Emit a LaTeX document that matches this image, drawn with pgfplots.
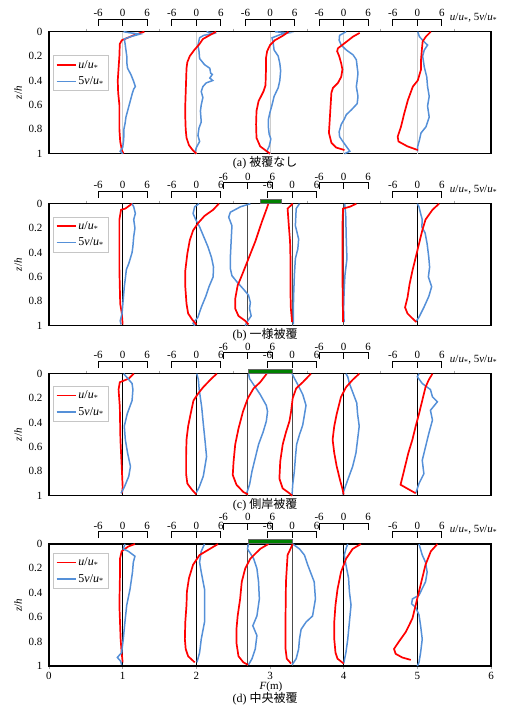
\documentclass[border=0pt]{standalone}
\usepackage{fontspec}
\setmainfont{Liberation Serif}
\newfontfamily\jp{Noto Sans CJK JP}
\usepackage{pgfplots}
\pgfplotsset{compat=1.18}
\definecolor{ured}{HTML}{FF0000}
\definecolor{vblue}{HTML}{5590D8}

\newcommand\fs{\fontsize{11}{13}\selectfont}
\newcommand\fl{\fontsize{12}{14}\selectfont}
\newcommand\uu{\textit{u}/\textit{u}\textsubscript{*}}
\newcommand\vv{5\textit{v}/\textit{u}\textsubscript{*}}

% bracket scale above a profile: left, zero, right, lift (pt)
\newcommand\brk[4]{%
  \draw[line width=0.9pt] ([yshift=#4pt-6.5pt]axis cs:#1,0) -- ([yshift=#4pt]axis cs:#1,0) -- ([yshift=#4pt]axis cs:#3,0) -- ([yshift=#4pt-6.5pt]axis cs:#3,0);
  \draw[line width=0.9pt] ([yshift=#4pt]axis cs:#2,0) -- ([yshift=#4pt-6.5pt]axis cs:#2,0);
  \node[font=\fs, anchor=base, inner sep=0pt] at ([yshift=#4pt+2.5pt]axis cs:#1,0) {-6};
  \node[font=\fs, anchor=base, inner sep=0pt] at ([yshift=#4pt+2.5pt]axis cs:#2,0) {0};
  \node[font=\fs, anchor=base, inner sep=0pt] at ([yshift=#4pt+2.5pt]axis cs:#3,0) {6};
}
\newcommand\zl[2]{\addplot[forget plot, #2] coordinates {(#1,0) (#1,1)};}

\pgfplotsset{
  panel/.style={
    width=442pt, height=122pt, scale only axis, anchor=north west,
    xmin=0, xmax=6, ymin=0, ymax=1, y dir=reverse, clip=false,
    axis line style={line width=1.2pt},
    ytick={0,0.2,0.4,0.6,0.8,1}, yticklabels={0,0.2,0.4,0.6,0.8,1},
    ytick style={draw=none},
    xtick={0.5,1.5,2.5,3.5,4.5,5.5}, xticklabels={}, xtick pos=right,
    tick align=outside, xtick style={gray!70, line width=0.5pt},
    major tick length=3pt,
    tick label style={font=\fs},
    ylabel={\textit{z}/\textit{h}},
    ylabel style={font=\fs, at={(axis description cs:-0.07,0.5)}, anchor=center},
    legend cell align=left,
    legend style={font=\fl, draw=gray!45, line width=0.6pt, inner xsep=2.5pt,
      inner ysep=2.5pt, row sep=3pt, anchor=north west},
  },
  legend image code/.code={\draw[#1] (0pt,0pt) -- (19pt,0pt);},
  urL/.style={ured, line width=1.7pt, x filter/.expression={#1+x/18}},
  vbL/.style={vblue, line width=1.5pt, x filter/.expression={#1+x/18}},
  ur/.style={urL=#1, forget plot},
  vb/.style={vbL=#1, forget plot},
}

\begin{document}
\begin{tikzpicture}
\useasboundingbox (0pt,0pt) rectangle (511pt,-707pt);

% ---------------- (a)
\begin{axis}[panel, at={(49pt,-31.7pt)},
  legend style={at={(axis description cs:0.009,0.805)}}]
\zl{1}{gray!40, line width=1pt}\zl{2}{gray!40, line width=1pt}\zl{3}{gray!40, line width=1pt}
\zl{4}{gray!40, line width=1pt}\zl{5}{gray!40, line width=1pt}
\addplot[urL=1] coordinates {(5.3,0) (3.0,0.025) (1.2,0.05) (-0.2,0.07) (-0.7,0.1) (-0.8,0.2) (-1.0,0.3) (-1.2,0.4) (-1.1,0.5) (-0.8,0.6) (-0.8,0.7) (-0.8,0.8) (-0.6,0.9) (-0.2,0.97) (0.2,1)};
\addlegendentry{\uu}
\addplot[vbL=1] coordinates {(0.2,0) (2,0.01) (4.2,0.02) (2,0.04) (0.4,0.06) (0.6,0.1) (0.8,0.15) (1.0,0.2) (1.0,0.25) (1.2,0.3) (2.0,0.35) (2.6,0.4) (2.9,0.43) (3.1,0.45) (2.7,0.47) (2.4,0.5) (2.0,0.55) (1.6,0.6) (1.2,0.65) (0.8,0.7) (0.6,0.75) (0.3,0.8) (0.3,0.85) (0.2,0.9) (0,0.95) (-0.6,0.98) (0,1)};
\addlegendentry{\vv}
\addplot[vb=2] coordinates {(2.5,0) (4.2,0.015) (1.8,0.03) (0.8,0.05) (0.4,0.11) (0.65,0.16) (0.8,0.22) (2.0,0.27) (3.3,0.3) (3.5,0.34) (3.9,0.35) (3.3,0.38) (4.0,0.4) (2.4,0.42) (1.6,0.45) (1.2,0.49) (1.6,0.54) (1.2,0.6) (1.0,0.65) (1.2,0.74) (0.65,0.79) (0.4,0.85) (0.8,0.9) (0,0.95) (-0.4,1)};
\addplot[ur=2] coordinates {(4.8,0) (3.2,0.03) (1.6,0.06) (0.8,0.1) (-0.5,0.15) (-1.6,0.2) (-2.2,0.25) (-2.4,0.3) (-2.5,0.4) (-2.6,0.5) (-2.7,0.6) (-2.7,0.7) (-2.6,0.8) (-2.4,0.87) (-1.8,0.93) (-0.9,0.97) (0,1)};
\addplot[vb=3] coordinates {(1.2,0) (4.5,0.01) (2.8,0.02) (0.5,0.05) (0.8,0.1) (1.0,0.15) (2.0,0.2) (2.4,0.26) (2.6,0.32) (2.4,0.4) (2.0,0.46) (1.0,0.53) (0.5,0.6) (0,0.66) (-0.4,0.72) (-0.4,0.78) (-0.2,0.84) (0.2,0.88) (-0.2,0.94) (-0.8,0.98) (0,1)};
\addplot[ur=3] coordinates {(4.5,0) (3.3,0.03) (1.2,0.07) (0,0.11) (-0.7,0.16) (-1.0,0.22) (-1.0,0.33) (-1.1,0.44) (-1.6,0.49) (-2.8,0.57) (-3.3,0.65) (-3.4,0.76) (-3.3,0.87) (-2.4,0.94) (-0.8,0.98) (0,1)};
\addplot[vb=4] coordinates {(0.6,0) (-1.0,0.03) (-1.1,0.07) (-0.6,0.11) (0.65,0.15) (2.3,0.19) (3.1,0.23) (3.3,0.29) (3.5,0.34) (3.3,0.4) (3.1,0.45) (3.5,0.53) (3.3,0.59) (1.9,0.64) (0.65,0.68) (0.1,0.72) (-0.6,0.76) (-1.1,0.82) (-1.0,0.86) (-0.2,0.9) (0.65,0.94) (1.5,0.98) (0.2,1)};
\addplot[ur=4] coordinates {(3.9,0.01) (2.3,0.04) (0.2,0.095) (-1.4,0.136) (-1.6,0.16) (-1.1,0.2) (-0.6,0.26) (-0.3,0.31) (-0.6,0.37) (-1.4,0.42) (-2.6,0.46) (-3.0,0.5) (-3.2,0.61) (-3.4,0.72) (-3.6,0.83) (-3.0,0.91) (-1.8,0.95) (0.2,0.97)};
\addplot[vb=5] coordinates {(0.1,0) (0.5,0.04) (1.3,0.07) (2.5,0.11) (1.7,0.15) (1.3,0.2) (1.7,0.29) (2.3,0.37) (2.5,0.45) (2.9,0.53) (2.5,0.61) (2.9,0.7) (2.1,0.78) (0.9,0.83) (0.5,0.89) (0.1,0.94) (0.1,0.98)};
\addplot[ur=5] coordinates {(3.3,0) (2.1,0.04) (1.3,0.08) (1.1,0.15) (0.9,0.23) (0.9,0.31) (0.1,0.4) (-1.1,0.45) (-2.3,0.56) (-3.2,0.67) (-4.0,0.78) (-4.8,0.86) (-4.6,0.9) (-2.4,0.94) (0.1,0.97)};
\brk{0.6667}{1}{1.3333}{12.5}\brk{1.6667}{2}{2.3333}{12.5}\brk{2.6667}{3}{3.3333}{12.5}
\brk{3.6667}{4}{4.3333}{12.5}\brk{4.6667}{5}{5.3333}{12.5}
\node[font=\fs, anchor=west, inner sep=0pt] at ([yshift=14pt]axis cs:5.44,0) {\uu, \vv};
\node[font=\fl] at ([yshift=-9.5pt]axis description cs:0.489,0) {(a) {\jp 被覆なし}};
\end{axis}

% ---------------- (b)
\begin{axis}[panel, at={(49pt,-203.7pt)},
  legend style={at={(axis description cs:0.009,0.893)}}]
\zl{1}{black, line width=0.6pt}\zl{2}{black, line width=0.6pt}\zl{2.7}{black!70, line width=0.9pt}
\zl{3.3}{black!70, line width=0.8pt}\zl{4}{black!70, line width=0.7pt}\zl{5}{black, line width=0.6pt}
\addplot[urL=1] coordinates {(2.3,0) (0.65,0.04) (-0.4,0.05) (-0.8,0.13) (-0.8,0.27) (-0.8,0.54) (-0.6,0.82) (-0.2,0.9) (0,0.99)};
\addlegendentry{\uu}
\addplot[vbL=1] coordinates {(2.3,0) (2.7,0.025) (3.1,0.08) (2.7,0.13) (3.0,0.2) (2.7,0.27) (2.5,0.35) (2.3,0.4) (1.5,0.49) (0.9,0.54) (0.7,0.6) (0.4,0.68) (0.1,0.8) (-0.15,0.9) (-0.6,0.96) (-0.4,0.99)};
\addlegendentry{\vv}
\addplot[vb=2] coordinates {(0.65,0) (-0.4,0.025) (-0.8,0.08) (-0.15,0.13) (0.8,0.19) (1.8,0.27) (2.8,0.35) (3.7,0.44) (4.2,0.52) (4.1,0.6) (3.1,0.68) (2.3,0.76) (1.2,0.85) (0.4,0.93) (-0.8,0.98) (-0.4,1)};
\addplot[ur=2] coordinates {(5.5,0) (4.1,0.05) (2.0,0.1) (0.4,0.16) (-0.8,0.22) (-1.6,0.3) (-2.2,0.41) (-2.7,0.55) (-2.7,0.68) (-2.4,0.82) (-2.0,0.9) (-1.0,0.95) (0,0.99)};
\addplot[vb=2.7] coordinates {(0.6,0) (-1.8,0.025) (-4.3,0.07) (-4.7,0.11) (-3.9,0.18) (-4.1,0.31) (-4.3,0.45) (-4.3,0.53) (-3.9,0.59) (-2.7,0.64) (-1.1,0.7) (0.15,0.75) (0.6,0.81) (0.4,0.86) (0.8,0.92) (-0.25,0.97) (-0.65,1)};
\addplot[ur=2.7] coordinates {(5.0,0) (4.6,0.04) (3.4,0.15) (1.8,0.31) (0.15,0.45) (-1.5,0.59) (-2.5,0.67) (-3.1,0.78) (-3.1,0.86) (-2.3,0.92) (-0.65,0.96) (0.15,0.99)};
\addplot[vb=3.3] coordinates {(1.8,0) (1.0,0.04) (0.8,0.18) (1.6,0.29) (1.4,0.37) (0.8,0.45) (0.55,0.59) (0.4,0.73) (0.3,0.86) (0.3,0.99)};
\addplot[ur=3.3] coordinates {(0.15,0) (-1.1,0.04) (-0.8,0.18) (-0.5,0.31) (-0.4,0.45) (-0.4,0.59) (-0.4,0.73) (-0.3,0.86) (0,0.97)};
\addplot[vb=4] coordinates {(0.25,0) (0.5,0.09) (0.65,0.31) (0.8,0.45) (0.3,0.59) (0.1,0.73) (0,0.86) (0.1,0.97)};
\addplot[ur=4] coordinates {(3.1,0) (1.5,0.025) (-0.15,0.04) (-0.3,0.18) (-0.3,0.59) (-0.15,0.97)};
\addplot[vb=5] coordinates {(0,0) (0.4,0.025) (0.8,0.08) (1.2,0.13) (1.1,0.19) (1.9,0.24) (2.4,0.33) (2.8,0.44) (3.0,0.52) (2.7,0.6) (3.5,0.68) (2.8,0.76) (1.6,0.85) (0.4,0.93) (-0.4,0.97)};
\addplot[ur=5] coordinates {(5.3,0) (3.7,0.05) (2.0,0.13) (1.2,0.22) (0.4,0.33) (-0.4,0.44) (-1.2,0.55) (-1.9,0.66) (-2.4,0.77) (-3.0,0.85) (-2.4,0.9) (-1.2,0.94) (-0.25,0.97)};
\filldraw[fill=green!50!black, draw=black!60, line width=0.4pt] ([yshift=0.6pt]axis cs:2.87,0) rectangle ([yshift=5pt]axis cs:3.15,0);
\brk{0.6667}{1}{1.3333}{12.5}\brk{1.6667}{2}{2.3333}{12.5}\brk{2.3667}{2.7}{3.0333}{21}
\brk{2.9667}{3.3}{3.6333}{12.5}\brk{3.6667}{4}{4.3333}{21}\brk{4.6667}{5}{5.3333}{12.5}
\node[font=\fs, anchor=west, inner sep=0pt] at ([yshift=14pt]axis cs:5.44,0) {\uu, \vv};
\node[font=\fl] at ([yshift=-9.5pt]axis description cs:0.489,0) {(b) {\jp 一様被覆}};
\end{axis}

% ---------------- (c)
\begin{axis}[panel, at={(49pt,-373.7pt)},
  legend style={at={(axis description cs:0.009,0.9)}}]
\zl{1}{black, line width=0.6pt}\zl{2}{black, line width=0.6pt}\zl{2.7}{black!70, line width=0.9pt}
\zl{3.3}{black!70, line width=0.8pt}\zl{4}{black, line width=0.6pt}\zl{5}{black, line width=0.6pt}
\addplot[urL=1] coordinates {(2.7,0) (1.5,0.04) (-0.7,0.07) (-1.0,0.13) (-0.7,0.27) (-0.55,0.54) (-0.15,0.82) (0,0.93) (-0.15,0.98)};
\addlegendentry{\uu}
\addplot[vbL=1] coordinates {(0.25,0) (0.9,0.025) (2.3,0.08) (2.5,0.13) (2.3,0.22) (1.1,0.33) (0.4,0.43) (0.65,0.54) (1.2,0.65) (1.9,0.76) (1.5,0.84) (0.4,0.93) (-0.4,0.98)};
\addlegendentry{\vv}
\addplot[vb=2] coordinates {(0.1,0) (0.5,0.05) (0.7,0.13) (1.3,0.27) (1.7,0.41) (2.1,0.54) (2.5,0.68) (2.1,0.76) (1.7,0.84) (0.7,0.93) (-0.1,0.98)};
\addplot[ur=2] coordinates {(5.0,0) (3.7,0.04) (1.7,0.11) (0.5,0.16) (-0.7,0.22) (-1.4,0.33) (-2.0,0.43) (-2.4,0.54) (-2.5,0.68) (-2.5,0.82) (-2.2,0.9) (-1.1,0.95) (0,0.99)};
\addplot[vb=2.7] coordinates {(0.15,0) (0.4,0.04) (1.4,0.09) (3.0,0.17) (4.5,0.26) (4.8,0.31) (4.5,0.39) (3.7,0.48) (2.6,0.58) (1.8,0.69) (1.0,0.8) (0.4,0.91) (-0.4,0.99)};
\addplot[ur=2.7] coordinates {(4.6,0) (3.0,0.07) (1.4,0.12) (0,0.2) (-1.2,0.31) (-2.3,0.45) (-3.1,0.58) (-3.5,0.72) (-3.7,0.83) (-2.8,0.91) (-1.1,0.97) (0,0.99)};
\addplot[vb=3.3] coordinates {(0,0) (0.6,0.04) (1.4,0.09) (2.6,0.17) (3.4,0.26) (3.0,0.34) (2.6,0.42) (1.8,0.5) (1.1,0.58) (0.8,0.69) (0.55,0.8) (0.15,0.91) (0,0.99)};
\addplot[ur=3.3] coordinates {(4.6,0) (2.6,0.07) (1.0,0.12) (0.15,0.2) (-0.25,0.31) (-0.65,0.39) (-1.5,0.48) (-2.3,0.58) (-2.9,0.72) (-3.1,0.86) (-2.3,0.94) (-0.65,0.98) (0,1)};
\addplot[vb=4] coordinates {(0.55,0) (1.0,0.025) (1.4,0.08) (2.3,0.16) (3.2,0.24) (3.4,0.33) (3.8,0.43) (3.4,0.54) (3.0,0.65) (2.2,0.76) (1.0,0.87) (0.15,0.95) (-0.25,0.99)};
\addplot[ur=4] coordinates {(3.8,0) (2.2,0.05) (0.6,0.11) (-0.65,0.19) (-1.7,0.33) (-2.3,0.43) (-2.7,0.54) (-2.3,0.65) (-1.7,0.76) (-0.9,0.87) (-0.25,0.95) (0,0.99)};
\addplot[vb=5] coordinates {(0.4,0) (0,0.025) (1.2,0.08) (3.2,0.13) (3.7,0.19) (4.9,0.23) (3.2,0.3) (3.7,0.38) (2.8,0.49) (2.0,0.6) (1.2,0.71) (1.6,0.82) (0.4,0.9) (-0.4,0.98)};
\addplot[ur=5] coordinates {(3.7,0) (2.8,0.05) (2.0,0.11) (1.2,0.22) (0.4,0.33) (-0.4,0.43) (-1.2,0.54) (-2.2,0.65) (-3.0,0.76) (-3.8,0.87) (-4.1,0.91) (-2.0,0.95) (-0.4,0.98)};
\filldraw[fill=green!50!black, draw=black!60, line width=0.4pt] ([yshift=0.6pt]axis cs:2.7,0) rectangle ([yshift=5pt]axis cs:3.3,0);
\brk{0.6667}{1}{1.3333}{12.5}\brk{1.6667}{2}{2.3333}{12.5}\brk{2.3667}{2.7}{3.0333}{21}
\brk{2.9667}{3.3}{3.6333}{12.5}\brk{3.6667}{4}{4.3333}{21}\brk{4.6667}{5}{5.3333}{12.5}
\node[font=\fs, anchor=west, inner sep=0pt] at ([yshift=14pt]axis cs:5.44,0) {\uu, \vv};
\node[font=\fl] at ([yshift=-9.5pt]axis description cs:0.489,0) {(c) {\jp 側岸被覆}};
\end{axis}

% ---------------- (d)
\begin{axis}[panel, at={(49pt,-544pt)},
  legend style={at={(axis description cs:0.009,0.926)}},
  xtick={0,1,2,3,4,5,6}, xticklabels={0,1,2,3,4,5,6}, xtick pos=left]
\zl{1}{black, line width=0.6pt}\zl{2}{black, line width=0.6pt}\zl{2.7}{black!70, line width=0.9pt}
\zl{3.3}{black!70, line width=0.8pt}\zl{4}{black, line width=0.6pt}\zl{5}{black, line width=0.6pt}
\addplot[urL=1] coordinates {(3.0,0) (1.4,0.02) (-0.25,0.06) (-0.65,0.12) (-0.65,0.23) (-0.8,0.5) (-0.5,0.78) (-0.25,0.89) (0,0.97)};
\addlegendentry{\uu}
\addplot[vbL=1] coordinates {(0.55,0) (0.15,0.04) (1.4,0.06) (3.0,0.1) (2.6,0.15) (2.4,0.23) (1.8,0.37) (1.0,0.5) (0.55,0.64) (0.15,0.78) (-0.25,0.89) (-1.3,0.93) (-0.5,0.96) (-0.25,0.99)};
\addlegendentry{\vv}
\addplot[vb=2] coordinates {(2.0,0) (1.2,0.06) (0.8,0.15) (1.2,0.23) (2.0,0.37) (2.0,0.5) (2.0,0.64) (1.2,0.78) (0.8,0.89) (0.15,0.97)};
\addplot[ur=2] coordinates {(5.3,0) (3.3,0.04) (0.8,0.09) (-0.8,0.17) (-1.8,0.28) (-2.3,0.39) (-2.4,0.5) (-2.7,0.64) (-2.8,0.78) (-2.6,0.86) (-2.0,0.92) (-0.4,0.97)};
\addplot[vb=2.7] coordinates {(0.15,0) (-0.1,0.04) (1.4,0.12) (2.2,0.2) (2.6,0.31) (2.8,0.45) (2.2,0.59) (1.2,0.67) (2.2,0.75) (1.8,0.86) (1.0,0.94) (0.15,0.99)};
\addplot[ur=2.7] coordinates {(5.0,0) (3.0,0.04) (0.6,0.12) (-0.65,0.2) (-1.5,0.31) (-1.9,0.45) (-2.5,0.59) (-2.8,0.7) (-2.8,0.81) (-2.3,0.92) (-1.1,0.97) (0,0.99)};
\addplot[vb=3.3] coordinates {(0.15,0) (1.8,0.04) (3.0,0.09) (3.8,0.17) (5.4,0.31) (5.7,0.45) (5.0,0.59) (3.4,0.64) (2.2,0.7) (1.8,0.78) (1.6,0.86) (1.0,0.94) (0,0.99)};
\addplot[ur=3.3] coordinates {(0.15,0) (-1.1,0.09) (-1.5,0.31) (-1.6,0.59) (-1.6,0.86) (-1.3,0.94) (-0.25,0.98)};
\addplot[vb=4] coordinates {(1.0,0) (0.55,0.04) (0.15,0.09) (0.55,0.17) (1.2,0.28) (1.4,0.39) (1.8,0.5) (1.4,0.64) (1.0,0.78) (0.55,0.89) (0,0.98)};
\addplot[ur=4] coordinates {(4.2,0) (2.2,0.04) (0.6,0.12) (-0.65,0.23) (-1.5,0.37) (-2.0,0.5) (-2.3,0.64) (-2.3,0.78) (-2.0,0.89) (-1.5,0.94) (0,0.98)};
\addplot[vb=5] coordinates {(0.4,0) (1.2,0.09) (2.0,0.15) (2.4,0.23) (2.0,0.31) (0.4,0.42) (-1.2,0.45) (-1.4,0.49) (-0.4,0.52) (0.4,0.58) (0.8,0.67) (1.2,0.78) (0.8,0.89) (0.4,0.97) (0,1)};
\addplot[ur=5] coordinates {(4.9,0) (3.3,0.06) (2.0,0.17) (1.2,0.28) (0.4,0.39) (-0.4,0.5) (-1.2,0.61) (-2.8,0.72) (-4.5,0.8) (-5.7,0.86) (-5.3,0.9) (-3.7,0.93) (-1.6,0.95)};
\filldraw[fill=green!50!black, draw=black!60, line width=0.4pt] ([yshift=0.6pt]axis cs:2.7,0) rectangle ([yshift=5pt]axis cs:3.3,0);
\brk{0.6667}{1}{1.3333}{12.5}\brk{1.6667}{2}{2.3333}{12.5}\brk{2.3667}{2.7}{3.0333}{21}
\brk{2.9667}{3.3}{3.6333}{12.5}\brk{3.6667}{4}{4.3333}{21}\brk{4.6667}{5}{5.3333}{12.5}
\node[font=\fs, anchor=west, inner sep=0pt] at ([yshift=14pt]axis cs:5.44,0) {\uu, \vv};
\node[font=\fs] at ([yshift=-21pt]axis description cs:0.502,0) {\textit{F}(m)};
\node[font=\fl] at ([yshift=-33pt]axis description cs:0.489,0) {(d) {\jp 中央被覆}};
\end{axis}
\end{tikzpicture}
\end{document}
